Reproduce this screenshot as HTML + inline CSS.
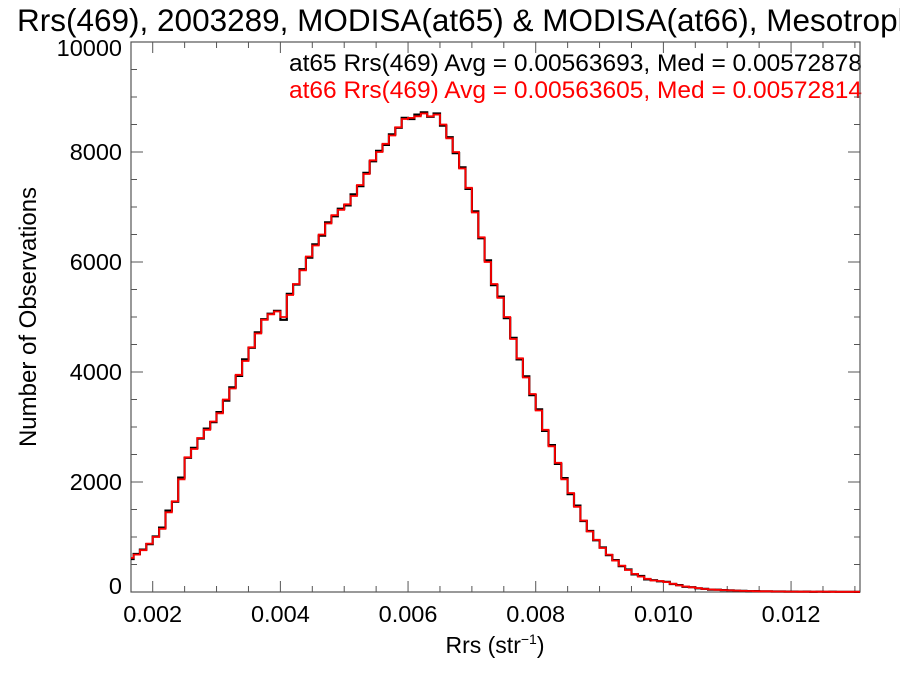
<!DOCTYPE html>
<html><head><meta charset="utf-8"><style>
body{margin:0;background:#fff;}
svg text{font-family:"Liberation Sans",sans-serif;}
</style></head><body>
<svg id="chart" width="900" height="675" xmlns="http://www.w3.org/2000/svg">
<rect width="900" height="675" fill="#fff"/>
<text x="17" y="31" font-size="31.5" fill="#000">Rrs(469), 2003289, MODISA(at65) &amp; MODISA(at66), Mesotrophic</text>
<text x="862" y="71" font-size="24.5" text-anchor="end" fill="#000">at65 Rrs(469) Avg = 0.00563693, Med = 0.00572878</text>
<text x="862" y="98" font-size="24.5" text-anchor="end" fill="#f00">at66 Rrs(469) Avg = 0.00563605, Med = 0.00572814</text>
<g id="axes"></g>
<g id="series"></g>
<text transform="translate(36,317) rotate(-90)" font-size="24" text-anchor="middle">Number of Observations</text>
<text x="495" y="653" font-size="23" text-anchor="middle">Rrs (str<tspan font-size="14" dy="-9">−1</tspan><tspan dy="9">)</tspan></text>
</svg>
<script>
const binStart = 0.0016;
const binWidth = 0.0001;
const at66Counts = [620,680,760,880,1000,1150,1450,1650,2050,2450,2600,2800,2950,3100,3250,3500,3700,3950,4200,4450,4700,4950,5050,5100,5000,5400,5600,5850,6100,6300,6500,6700,6850,6950,7050,7200,7400,7600,7850,8000,8150,8300,8450,8600,8620,8650,8700,8650,8680,8500,8250,8000,7700,7350,6900,6450,6000,5600,5350,5000,4600,4250,3900,3600,3300,2950,2650,2350,2050,1800,1550,1300,1100,950,800,680,570,480,400,330,280,240,210,200,180,150,120,100,85,70,55,45,40,35,30,25,20,18,15,13,12,10,9,8,7,6,6,5,5,5,4,4,4,3,3,3,3];
const at65Counts = [600,690,770,870,1010,1170,1480,1640,2080,2440,2620,2790,2970,3090,3270,3480,3720,3930,4230,4440,4720,4960,5060,5110,4950,5420,5590,5870,6080,6320,6480,6720,6830,6970,7030,7230,7380,7620,7830,8020,8130,8320,8440,8620,8600,8680,8720,8640,8700,8480,8270,7980,7720,7330,6920,6430,6030,5580,5370,4980,4620,4230,3920,3580,3320,2930,2670,2330,2070,1780,1570,1290,1110,940,810,670,580,470,410,320,290,230,215,195,185,145,125,95,88,68,57,44,41,34,31,24,21,17,16,12,13,9,10,7,8,5,7,4,6,4,5,3,4,3,2,4,3];
const xTickValues = [0.002,0.004,0.006,0.008,0.010,0.012];
const xTickLabels = ["0.002","0.004","0.006","0.008","0.010","0.012"];
const yTickValues = [0,2000,4000,6000,8000,10000];
const yTickLabels = ["0","2000","4000","6000","8000","10000"];

const L=131,R=860,T=42,B=592,xMin=0.00166,xMax=0.01308,yMax=10000;
const xs=v=>L+(v-xMin)/(xMax-xMin)*(R-L);
const ys=v=>B-v/yMax*(B-T);
const NS="http://www.w3.org/2000/svg";
function mk(tag,attrs,parent){const e=document.createElementNS(NS,tag);for(const k in attrs)e.setAttribute(k,attrs[k]);parent.appendChild(e);return e;}
const axes=document.getElementById('axes');
const frame=mk('rect',{x:L,y:T,width:R-L,height:B-T,fill:'none',stroke:'#555','stroke-width':1.2},axes);


for(let v=0.0015;v<=xMax;v+=0.0005){const x=xs(v);if(x<L||x>R)continue;const major=xTickValues.some(t=>Math.abs(t-v)<1e-7);const len=major?11:6;
 const t1=mk('line',{x1:x,x2:x,y1:B,y2:B-len,stroke:'#555'},axes);
 const t2=mk('line',{x1:x,x2:x,y1:T,y2:T+len,stroke:'#555'},axes);}
xTickValues.forEach((v,i)=>{const t=mk('text',{x:xs(v),y:622,'font-size':23.5,'text-anchor':'middle'},axes);t.textContent=xTickLabels[i];
 });
for(let v=0;v<=yMax;v+=500){const y=ys(v);const major=v%2000===0;const len=major?12:6;
 const t1=mk('line',{x1:L,x2:L+len,y1:y,y2:y,stroke:'#555'},axes);
 const t2=mk('line',{x1:R,x2:R-len,y1:y,y2:y,stroke:'#555'},axes);}
yTickValues.forEach((v,i)=>{let y=ys(v)+8;if(v===0)y-=6;if(v===yMax)y+=6;const t=mk('text',{x:122,y:y,'font-size':23.5,'text-anchor':'end'},axes);t.textContent=yTickLabels[i];
 });
function stepPath(c){let d='';c.forEach((n,i)=>{let x0=Math.max(xs(binStart+i*binWidth),L),x1=Math.min(xs(binStart+(i+1)*binWidth),R);if(x1<=L||x0>=R)return;const y=ys(n);d+=(d?'L':'M')+x0.toFixed(1)+','+y.toFixed(1)+'L'+x1.toFixed(1)+','+y.toFixed(1);});return d;}
const series=document.getElementById('series');
const p1=mk('path',{d:stepPath(at65Counts),fill:'none',stroke:'#000','stroke-width':2.2},series);


const p2=mk('path',{d:stepPath(at66Counts),fill:'none',stroke:'#f00','stroke-width':1.8},series);


</script>
</body></html>
